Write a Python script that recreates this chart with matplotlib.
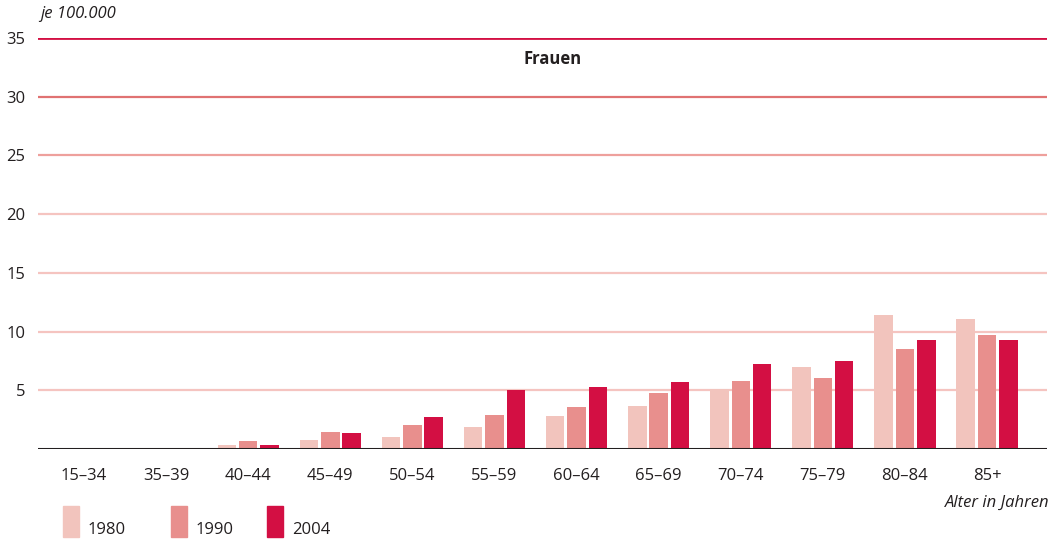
import matplotlib

matplotlib.use("Agg")

import matplotlib.pyplot as plt
import numpy as np
from matplotlib.patches import Rectangle

AGE_GROUPS = ["15–34", "35–39", "40–44", "45–49", "50–54", "55–59",
              "60–64", "65–69", "70–74", "75–79", "80–84", "85+"]
YEARS = ["1980", "1990", "2004"]
RATE_1980 = [0, 0, 0.35, 0.8, 1.0, 1.9, 2.8, 3.65, 5.1, 7.0, 11.45, 11.1]
RATE_1990 = [0, 0, 0.7, 1.45, 2.05, 2.9, 3.6, 4.75, 5.8, 6.05, 8.55, 9.7]
RATE_2004 = [0, 0, 0.35, 1.35, 2.7, 5.05, 5.3, 5.7, 7.25, 7.5, 9.3, 9.3]
Y_TICKS = [5, 10, 15, 20, 25, 30, 35]

COLORS = ["#f2c4bd", "#e88f8d", "#d30f43"]
GRID_COLORS = {35: "#d30f43", 30: "#e07272", 25: "#eea09c"}
GRID_LIGHT = "#f5c4c0"
TEXT = "#231f20"

plt.rcParams["font.family"] = ["Open Sans", "DejaVu Sans"]


def main():
    fig = plt.figure(figsize=(10.64, 5.45), dpi=100)
    ax = fig.add_axes([38 / 1064, 1 - 449 / 545, (1047 - 38) / 1064, (449 - 38) / 545])

    x = np.arange(len(AGE_GROUPS))
    step = 0.26
    width = 0.225
    for i, (vals, color) in enumerate(zip([RATE_1980, RATE_1990, RATE_2004], COLORS)):
        ax.bar(x + (i - 1) * step, vals, width=width, color=color, zorder=3)

    for t in Y_TICKS:
        c = GRID_COLORS.get(t, GRID_LIGHT)
        lw = 2.0 if t == 35 else 1.6
        ax.axhline(t, color=c, lw=lw, zorder=1)
    ax.axhline(0, color=TEXT, lw=2.2, zorder=4)

    ax.set_xlim(-0.56, 11.73)
    ax.set_ylim(0, 35)
    ax.set_yticks(Y_TICKS)
    ax.set_yticklabels([str(t) for t in Y_TICKS], fontsize=12, color=TEXT)
    ax.set_xticks(x)
    ax.set_xticklabels(AGE_GROUPS, fontsize=12, color=TEXT)
    ax.tick_params(axis="both", length=0)
    ax.tick_params(axis="y", pad=9)
    ax.tick_params(axis="x", pad=14)
    for s in ax.spines.values():
        s.set_visible(False)

    fig.text(553 / 1064, 1 - 59 / 545, "Frauen", ha="center", va="center",
             fontsize=12, fontweight="bold", color=TEXT)
    fig.text(40 / 1064, 1 - 14 / 545, "je 100.000", ha="left", va="center",
             fontsize=12, style="italic", color=TEXT)
    fig.text(1050 / 1064, 1 - 503 / 545, "Alter in Jahren", ha="right", va="center",
             fontsize=12, style="italic", color=TEXT)

    # legend
    patch_x = [63, 171, 267]
    for px, year, color in zip(patch_x, YEARS, COLORS):
        fig.patches.append(Rectangle((px / 1064, 1 - 537 / 545), 16 / 1064, 31 / 545,
                                     transform=fig.transFigure, color=color))
        fig.text((px + 25) / 1064, 1 - 530 / 545, year, ha="left", va="center",
                 fontsize=12, color=TEXT)

    fig.savefig("out.png", dpi=100)


if __name__ == "__main__":
    main()
